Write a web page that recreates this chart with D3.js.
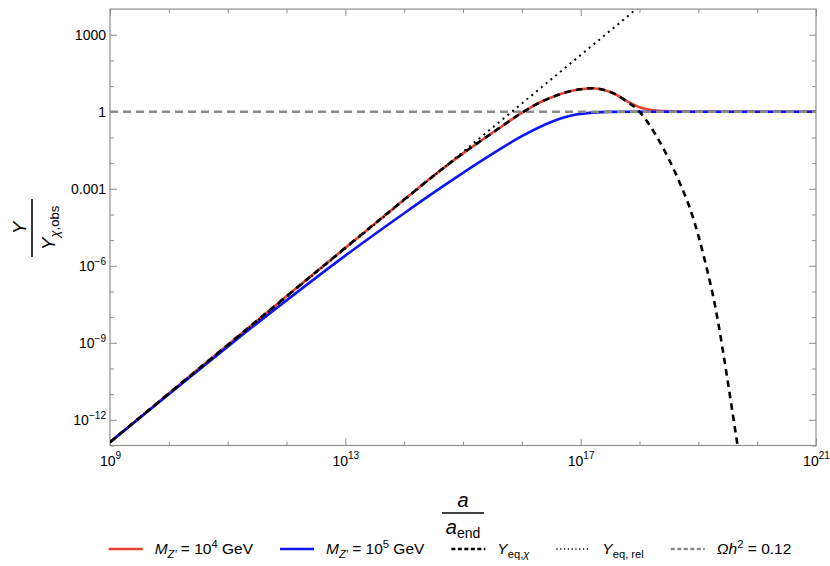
<!DOCTYPE html>
<html><head><meta charset="utf-8">
<script src="https://cdn.jsdelivr.net/npm/d3@7"></script>
<style>
body{margin:0;background:#fff}
svg{display:block}
text{font-family:"Liberation Sans",Arial,Helvetica,sans-serif;fill:#000}
</style>
</head><body>
<svg id="chart" width="830" height="566"></svg>
<script>
// ---------- data ----------
const aRed = [1e9,1e10,1e11,1e12,1e13,1e14,3.16e14,1e15,3.16e15,1e16,1.78e16,3.16e16,5.62e16,1e17,1.58e17,2.51e17,3.98e17,6.31e17,1e18,1.58e18,2.51e18,3.98e18,1e19,1e21];
const yRed = [1.35e-13,1.07e-11,8.3e-10,6.5e-8,5.0e-6,3.8e-4,3.2e-3,0.024,0.151,0.91,2.0,3.6,5.75,7.6,8.3,7.1,4.7,2.5,1.5,1.17,1.06,1.02,1.0,1.0];

const aBlue = [1e9,1e10,1e11,1e12,1e13,1e14,3.16e14,1e15,3.16e15,1e16,3.16e16,7.94e16,1.58e17,3.16e17,1e18,1e21];
const yBlue = [1.35e-13,1.0e-11,7.1e-10,4.5e-8,2.5e-6,1.12e-4,7.1e-4,4.2e-3,0.0229,0.112,0.40,0.76,0.93,0.99,1.0,1.0];

const aEqChi = [1e9,1e10,1e11,1e12,1e13,1e14,3.16e14,1e15,3.16e15,1e16,1.78e16,3.16e16,5.62e16,1e17,1.58e17,2.51e17,3.98e17,6.31e17,8.91e17,1.26e18,2.0e18,3.16e18,5.01e18,7.94e18,1.26e19,2.0e19,3.16e19,4.37e19,4.68e19];
const yEqChi = [1.35e-13,1.07e-11,8.3e-10,6.5e-8,5.0e-6,3.8e-4,3.2e-3,0.024,0.151,0.91,2.0,3.6,5.75,7.6,8.3,7.1,4.7,2.35,1.32,0.52,0.10,0.0141,1.41e-3,8.9e-5,2.0e-6,1.78e-8,3.16e-11,2.5e-13,9.0e-14];

const aEqRel = [1e9,1e13,1e17,1e18];
const yEqRel = [1.35e-13,4.7e-6,162,1.26e4];

const aOmega = [1e9,1e21];
const yOmega = [1,1];

const xDomain = [1e9,1e21];
const yDomain = [1e-13,1e4];
const xMinorTicks = [1e10,1e11,1e12,1e14,1e15,1e16,1e18,1e19,1e20];
const xMajorTicks = [1e9,1e13,1e17,1e21];
const xMajorLabels = ["10^9","10^13","10^17","10^21"];
const yMinorTicks = [1e-13,1e-11,1e-10,1e-8,1e-7,1e-5,1e-4,1e-2,1e-1,10,100];
const yMajorTicks = [1e-12,1e-9,1e-6,1e-3,1,1e3];
const yMajorLabels = ["10^−12","10^−9","10^−6","0.001","1","1000"];

const legendNames = ["mz4","mz5","eqchi","eqrel","omega"];

// ---------- layout ----------
const svg = d3.select("#chart");
const L = 110, R = 816, T = 9.1, B = 445.5;
const x = d3.scaleLog().domain(xDomain).range([L, R]);
const y = d3.scaleLog().domain(yDomain).range([B, T]);
const frameColor = "#8e8e8e";

svg.append("defs").append("clipPath").attr("id","plotclip")
  .append("rect").attr("x",L).attr("y",T).attr("width",R-L).attr("height",B-T);

function writeLabel(sel, s, fs){
  sel.text(null);
  const parts = s.split("^");
  sel.append("tspan").text(parts[0]);
  if(parts.length>1){
    sel.append("tspan").attr("dy", -fs*0.45).attr("font-size", fs*0.72).text(parts[1]);
  }
}
function styleAxis(g){
  g.select(".domain").remove();
  g.selectAll(".tick line").attr("stroke", frameColor).attr("stroke-width",1);
}
const fs = 14;
// bottom
svg.append("g").attr("transform",`translate(0,${B})`)
  .call(d3.axisBottom(x).tickValues(xMinorTicks).tickSize(-4).tickFormat(""))
  .call(styleAxis);
const gxb = svg.append("g").attr("transform",`translate(0,${B})`)
  .call(d3.axisBottom(x).tickValues(xMajorTicks).tickSize(-7).tickFormat((d,i)=>xMajorLabels[i]))
  .call(styleAxis);
gxb.selectAll(".tick text").attr("font-size",fs).attr("font-family","Liberation Sans, Arial, sans-serif").attr("fill","#000")
  .attr("y", 20).attr("dy", 0)
  .each(function(d,i){ writeLabel(d3.select(this), xMajorLabels[i], fs); });
// top
svg.append("g").attr("transform",`translate(0,${T})`)
  .call(d3.axisTop(x).tickValues(xMinorTicks).tickSize(-4).tickFormat(""))
  .call(styleAxis);
svg.append("g").attr("transform",`translate(0,${T})`)
  .call(d3.axisTop(x).tickValues(xMajorTicks).tickSize(-7).tickFormat(""))
  .call(styleAxis);
// left
svg.append("g").attr("transform",`translate(${L},0)`)
  .call(d3.axisLeft(y).tickValues(yMinorTicks).tickSize(-4).tickFormat(""))
  .call(styleAxis);
const gyl = svg.append("g").attr("transform",`translate(${L},0)`)
  .call(d3.axisLeft(y).tickValues(yMajorTicks).tickSize(-7).tickFormat((d,i)=>yMajorLabels[i]))
  .call(styleAxis);
gyl.selectAll(".tick text").attr("font-size",fs).attr("font-family","Liberation Sans, Arial, sans-serif").attr("fill","#000")
  .attr("x",-4).attr("dy","0.36em")
  .each(function(d,i){ writeLabel(d3.select(this), yMajorLabels[i], fs); });
// right
svg.append("g").attr("transform",`translate(${R},0)`)
  .call(d3.axisRight(y).tickValues(yMinorTicks).tickSize(-4).tickFormat(""))
  .call(styleAxis);
svg.append("g").attr("transform",`translate(${R},0)`)
  .call(d3.axisRight(y).tickValues(yMajorTicks).tickSize(-7).tickFormat(""))
  .call(styleAxis);

// frame
svg.append("rect").attr("x",L).attr("y",T).attr("width",R-L).attr("height",B-T)
  .attr("fill","none").attr("stroke",frameColor).attr("stroke-width",1.2);

// series
const series = [
  {xs:aRed, ys:yRed, color:"#e8402f", w:2.6, dash:null},
  {xs:aBlue, ys:yBlue, color:"#0d17f2", w:2.6, dash:null},
  {xs:aOmega, ys:yOmega, color:"#8a8a8a", w:2.6, dash:"8,5"},
  {xs:aEqChi, ys:yEqChi, color:"#000", w:2.6, dash:"6.5,5"},
  {xs:aEqRel, ys:yEqRel, color:"#000", w:2.0, dash:"2,4.2"}
];
const plot = svg.append("g").attr("clip-path","url(#plotclip)");
series.forEach(s=>{
  const pts = s.xs.map((a,i)=>[a, s.ys[i]]);
  const line = d3.line().x(d=>x(d[0])).y(d=>y(d[1])).curve(d3.curveMonotoneX);
  plot.append("path").attr("d", line(pts)).attr("fill","none")
    .attr("stroke", s.color).attr("stroke-width", s.w)
    .attr("stroke-dasharray", s.dash).attr("stroke-linejoin","round");
});

// y axis label (fraction, rotated)
const yl = svg.append("g").attr("transform","translate(32,228) rotate(-90)");
yl.append("line").attr("x1",-29).attr("x2",29).attr("y1",0).attr("y2",0).attr("stroke","#000").attr("stroke-width",1.6);
yl.append("text").attr("x",0).attr("y",-6).attr("text-anchor","middle").attr("font-size",19).attr("font-style","italic").text("Y");
const yd = yl.append("text").attr("x",0).attr("y",23).attr("text-anchor","middle").attr("font-size",19);
yd.append("tspan").attr("font-style","italic").text("Y");
yd.append("tspan").attr("font-size",13).attr("dy",4).attr("font-style","italic").text("χ");
yd.append("tspan").attr("font-size",13).text(",obs");

// x axis label (fraction)
const xl = svg.append("g").attr("transform","translate(463,513)");
xl.append("line").attr("x1",-21).attr("x2",21).attr("y1",0).attr("y2",0).attr("stroke","#000").attr("stroke-width",1.6);
xl.append("text").attr("x",0).attr("y",-6).attr("text-anchor","middle").attr("font-size",20).attr("font-style","italic").text("a");
const xd = xl.append("text").attr("x",0).attr("y",21).attr("text-anchor","middle").attr("font-size",20);
xd.append("tspan").attr("font-style","italic").text("a");
xd.append("tspan").attr("font-size",14).attr("dy",4).text("end");

// legend
const lg = svg.append("g");
const legendDefs = {
  mz4:{color:"#e8402f", w:2.4, dash:null},
  mz5:{color:"#0d17f2", w:2.4, dash:null},
  eqchi:{color:"#000", w:2.4, dash:"4,2.5"},
  eqrel:{color:"#000", w:1.3, dash:"1.2,2.6"},
  omega:{color:"#8a8a8a", w:2.4, dash:"4,2.5"}
};
function legendText(t, key){
  const lf = 15.5, sf = 11.2;
  t.attr("font-size", lf).attr("dy","0.35em");
  if(key==="mz4"||key==="mz5"){
    t.append("tspan").attr("font-style","italic").text("M");
    t.append("tspan").attr("font-style","italic").attr("font-size",sf).attr("dy",3.5).text("Z′");
    t.append("tspan").attr("dy",-3.5).text(" = 10");
    t.append("tspan").attr("font-size",sf).attr("dy",-6).text(key==="mz4"?"4":"5");
    t.append("tspan").attr("dy",6).text(" GeV");
  } else if(key==="eqchi"){
    t.append("tspan").attr("font-style","italic").text("Y");
    t.append("tspan").attr("font-size",sf).attr("dy",3.5).text("eq,");
    t.append("tspan").attr("font-size",sf).attr("font-style","italic").text("χ");
  } else if(key==="eqrel"){
    t.append("tspan").attr("font-style","italic").text("Y");
    t.append("tspan").attr("font-size",sf).attr("dy",3.5).text("eq, rel");
  } else {
    t.append("tspan").attr("font-style","italic").text("Ω");
    t.append("tspan").attr("font-style","italic").text("h");
    t.append("tspan").attr("font-size",sf).attr("dy",-6).text("2");
    t.append("tspan").attr("dy",6).text(" = 0.12");
  }
}
let cx = 0;
const gap = 27;
legendNames.forEach((k,i)=>{
  const g = lg.append("g");
  const d = legendDefs[k];
  g.append("line").attr("x1",0).attr("x2",34).attr("y1",0).attr("y2",0)
    .attr("stroke",d.color).attr("stroke-width",d.w).attr("stroke-dasharray",d.dash);
  const t = g.append("text").attr("x",46).attr("y",0);
  legendText(t,k);
  const w = 46 + t.node().getComputedTextLength();
  g.attr("transform",`translate(${cx},0)`);
  cx += w + gap;
});
const totalW = cx - gap;
lg.attr("transform",`translate(${450 - totalW/2},549)`);
</script>
</body></html>
